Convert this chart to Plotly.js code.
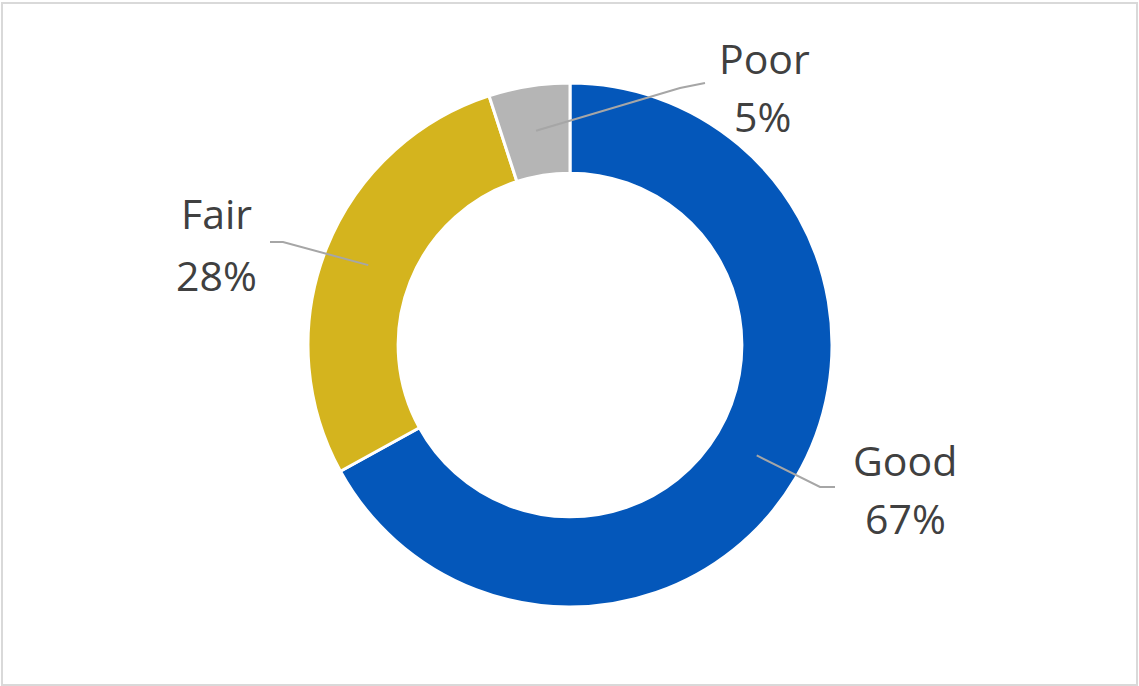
<!DOCTYPE html>
<html>
<head>
<meta charset="utf-8">
<script src="https://cdn.plot.ly/plotly-3.0.1.min.js"></script>
<style>html,body{margin:0;padding:0;background:#fff;}#chart{width:1139px;height:686px;}</style>
</head>
<body>
<div id="chart"></div>
<script>
// ---- data ----
const categories = ["Good", "Fair", "Poor"];
const values = [67, 28, 5];
const percentLabels = ["67%", "28%", "5%"];
const colors = ["#0457BA", "#D4B41E", "#B5B5B5"];

// ---- layout config (pixels) ----
const W = 1139, H = 686;
const cx = 570, cy = 345, rOuter = 262, holeFrac = 0.656;
const rInner = rOuter * holeFrac;
const rMid = (rOuter + rInner) / 2;
// label placements: elbow, line end, name center, percent center
const labelLayout = [
  {elbow: [820, 487], end: [835, 487], name: [905, 460], pct: [905, 518]},
  {elbow: [283, 242], end: [270, 242], name: [216, 213], pct: [216, 275]},
  {elbow: [680, 88],  end: [705, 83],  name: [764, 58],  pct: [762, 116]}
];

const px = x => x / W;
const py = y => 1 - y / H;

const total = values.reduce((a, b) => a + b, 0);
let cum = 0;
const shapes = [];
const annotations = [];
const font = {family: "Open Sans, Noto Sans, sans-serif", size: 41, color: "#404040"};
values.forEach((v, i) => {
  const midFrac = (cum + v / 2) / total;
  cum += v;
  const ang = midFrac * 2 * Math.PI; // clockwise from 12 o'clock
  const sx = cx + rMid * Math.sin(ang);
  const sy = cy - rMid * Math.cos(ang);
  const L = labelLayout[i];
  shapes.push({
    type: "path", xref: "paper", yref: "paper",
    path: `M ${px(sx)} ${py(sy)} L ${px(L.elbow[0])} ${py(L.elbow[1])} L ${px(L.end[0])} ${py(L.end[1])}`,
    line: {color: "#A6A6A6", width: 2}
  });
  annotations.push({
    xref: "paper", yref: "paper", x: px(L.name[0]), y: py(L.name[1]),
    xanchor: "center", yanchor: "middle", text: categories[i], showarrow: false, font: font
  });
  annotations.push({
    xref: "paper", yref: "paper", x: px(L.pct[0]), y: py(L.pct[1]),
    xanchor: "center", yanchor: "middle", text: percentLabels[i], showarrow: false, font: font
  });
});

// border
shapes.push({
  type: "rect", xref: "paper", yref: "paper",
  x0: px(2), x1: px(1137), y0: py(3), y1: py(685),
  line: {color: "#D9D9D9", width: 2}
});

const trace = {
  type: "pie",
  labels: categories,
  values: values,
  hole: holeFrac,
  sort: false,
  direction: "clockwise",
  rotation: 0,
  textinfo: "none",
  hoverinfo: "label+percent",
  marker: {colors: colors, line: {color: "#FFFFFF", width: 3}},
  domain: {
    x: [px(cx - rOuter), px(cx + rOuter)],
    y: [py(cy + rOuter), py(cy - rOuter)]
  },
  showlegend: false
};

const layout = {
  width: W, height: H,
  margin: {l: 0, r: 0, t: 0, b: 0},
  paper_bgcolor: "#FFFFFF",
  showlegend: false,
  shapes: shapes,
  annotations: annotations
};

Plotly.newPlot("chart", [trace], layout, {displayModeBar: false, staticPlot: true});
</script>
</body>
</html>
